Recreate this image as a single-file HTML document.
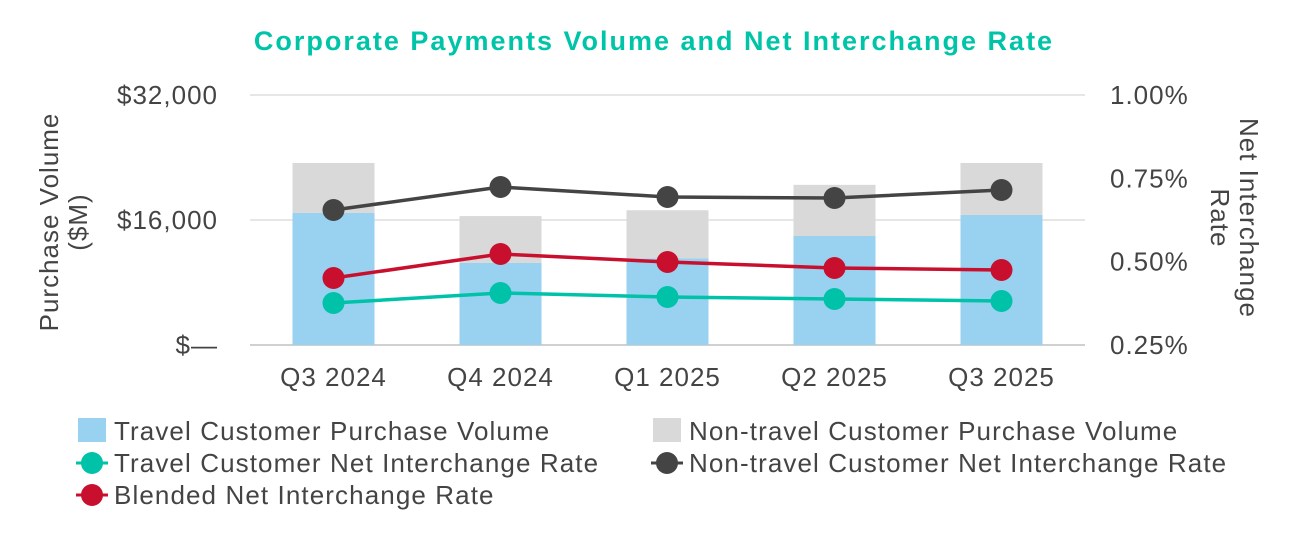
<!DOCTYPE html>
<html><head><meta charset="utf-8"><style>
body{margin:0;background:#fff;width:1306px;height:536px;overflow:hidden;font-family:"Liberation Sans",sans-serif}
</style></head><body>
<svg id="chart" width="1306" height="536" xmlns="http://www.w3.org/2000/svg" font-family="Liberation Sans, sans-serif">
<text x="654" y="50" text-anchor="middle" font-size="27" font-weight="bold" letter-spacing="2" fill="#00c4a7">Corporate Payments Volume and Net Interchange Rate</text>
<g id="grid"></g><g id="bars"></g><g id="lines"></g><g id="axes"></g>
<text transform="translate(62,222) rotate(-90)" text-anchor="middle" font-size="26" letter-spacing="1" fill="#444"><tspan x="0" dy="-4">Purchase Volume</tspan><tspan x="0" dy="29">($M)</tspan></text>
<text transform="translate(1236,218) rotate(90)" text-anchor="middle" font-size="26" letter-spacing="1" fill="#444"><tspan x="0" dy="-4">Net Interchange</tspan><tspan x="0" dy="29">Rate</tspan></text>
<g font-size="26" letter-spacing="1.1" fill="#444">
<rect x="78" y="418" width="28" height="24" fill="#99d1f0"/><text x="114" y="440">Travel Customer Purchase Volume</text>
<rect x="653" y="418" width="28" height="24" fill="#d9d9d9"/><text x="689" y="440">Non-travel Customer Purchase Volume</text>
<line x1="76" y1="463" x2="108" y2="463" stroke="#00c2a8" stroke-width="3"/><circle cx="92" cy="463" r="11" fill="#00c2a8"/><text x="114" y="472">Travel Customer Net Interchange Rate</text>
<line x1="651" y1="463" x2="683" y2="463" stroke="#444" stroke-width="3"/><circle cx="667" cy="463" r="11" fill="#444"/><text x="689" y="472">Non-travel Customer Net Interchange Rate</text>
<line x1="76" y1="495" x2="108" y2="495" stroke="#c8102e" stroke-width="3"/><circle cx="92" cy="495" r="11" fill="#c8102e"/><text x="114" y="504">Blended Net Interchange Rate</text>
</g>
</svg>
<script>
const categories=["Q3 2024","Q4 2024","Q1 2025","Q2 2025","Q3 2025"];
const travelVolume=[16900,10500,11100,13950,16650];
const nonTravelVolume=[6400,6000,6150,6550,6650];
const travelRate=[0.376,0.406,0.394,0.388,0.382];
const nonTravelRate=[0.655,0.724,0.694,0.691,0.715];
const blendedRate=[0.451,0.523,0.499,0.481,0.475];
const leftTicks=[0,16000,32000];
const leftTickLabels=["$—","$16,000","$32,000"];
const rightTicks=[0.25,0.5,0.75,1.0];
const rightTickLabels=["0.25%","0.50%","0.75%","1.00%"];
const NS="http://www.w3.org/2000/svg";
const x0=250,x1=1085,yTop=95,yBot=345;
const xc=i=>x0+(x1-x0)/categories.length*(i+0.5);
const yL=v=>yBot-(v/32000)*(yBot-yTop);
const yR=v=>yBot-((v-0.25)/0.75)*(yBot-yTop);
function mk(t,a,p){const e=document.createElementNS(NS,t);for(const k in a)e.setAttribute(k,a[k]);p.appendChild(e);return e;}
const G=document.getElementById('grid'),B=document.getElementById('bars'),L=document.getElementById('lines'),A=document.getElementById('axes');
leftTicks.forEach((t,i)=>{
 const l=mk('line',{x1:x0,x2:x1,y1:yL(t),y2:yL(t),stroke:i==0?'#d0d0d0':'#e6e6e6','stroke-width':2},G);
 
 
 const tx=mk('text',{x:218,y:yL(t)+9,'text-anchor':'end','font-size':26,'letter-spacing':1,fill:'#444'},A);tx.textContent=leftTickLabels[i];
 
 
});
rightTicks.forEach((t,i)=>{
 const tx=mk('text',{x:1110,y:yR(t)+9,'font-size':26,'letter-spacing':1,fill:'#444'},A);tx.textContent=rightTickLabels[i];
 
 
});
const bw=82;
categories.forEach((c,i)=>{
 const r1=mk('rect',{x:xc(i)-bw/2,y:yL(travelVolume[i]),width:bw,height:yBot-yL(travelVolume[i]),fill:'#99d1f0'},B);
 
 
 const tot=travelVolume[i]+nonTravelVolume[i];
 const r2=mk('rect',{x:xc(i)-bw/2,y:yL(tot),width:bw,height:yL(travelVolume[i])-yL(tot),fill:'#d9d9d9'},B);
 
 
 const tx=mk('text',{x:xc(i),y:386,'text-anchor':'middle','font-size':26,'letter-spacing':1,fill:'#444'},A);tx.textContent=c;
 
 
});
[[nonTravelRate,'#444','non-travel-rate'],[blendedRate,'#c8102e','blended-rate'],[travelRate,'#00c2a8','travel-rate']].forEach(([d,col,n])=>{
 const p=mk('polyline',{points:d.map((v,i)=>xc(i)+','+yR(v)).join(' '),fill:'none',stroke:col,'stroke-width':3.5},L);
 
 
 d.forEach((v,i)=>{const c=mk('circle',{cx:xc(i),cy:yR(v),r:11,fill:col},L);
  
  });
});
</script>
</body></html>
